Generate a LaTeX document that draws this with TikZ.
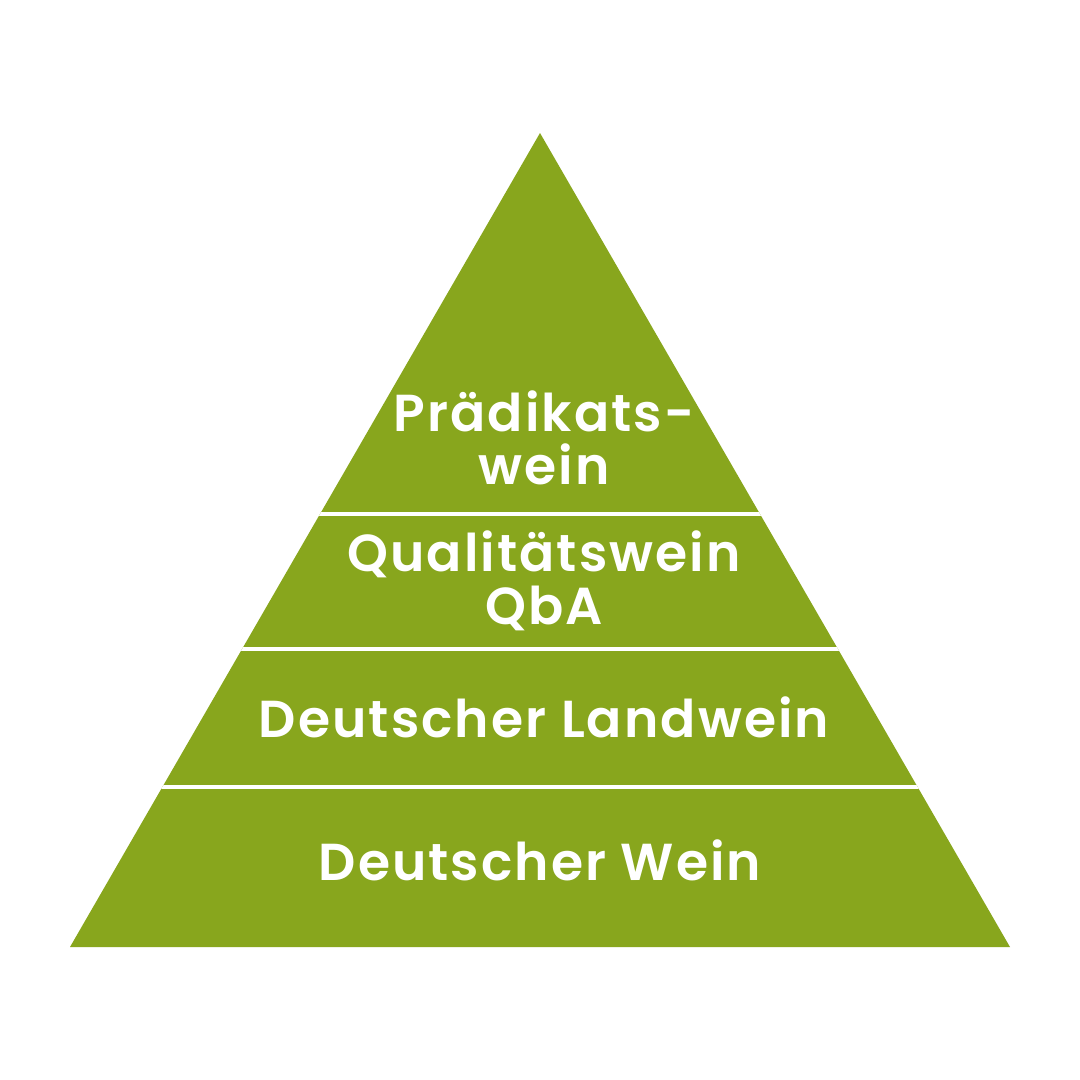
\documentclass[tikz,border=0pt]{standalone}
\usepackage{fontspec}
\setmainfont{Poppins}
\newfontfamily\semib[LetterSpace=4]{Poppins SemiBold}
\definecolor{wine}{HTML}{88A61D}
\begin{document}
\begin{tikzpicture}[x=1pt,y=-1pt,
  lbl/.style={text=white,font=\semib\fontsize{52}{52}\selectfont,inner sep=0pt,anchor=base},
  sep/.style={draw=white,line width=4pt}]
\useasboundingbox[fill=white] (0,0) rectangle (1080,1080);
\coordinate (apex) at (540,133);
\coordinate (bl) at (70,947);
\coordinate (br) at (1010,947);
\fill[wine] (apex) -- (bl) -- (br) -- cycle;
\begin{scope}
\clip (apex) -- (bl) -- (br) -- cycle;
\draw[sep] (0,514) -- (1080,514);
\draw[sep] (0,649) -- (1080,649);
\draw[sep] (0,787) -- (1080,787);
\end{scope}
\node[lbl] (p1) at (544,431) {Prädikats-};
\node[lbl] (p2) at (544,484) {wein};
\node[lbl] (q1) at (544,571) {Qualitätswein};
\node[lbl] (q2) at (544,624) {QbA};
\node[lbl] (l) at (544,737) {Deutscher Landwein};
\node[lbl] (w) at (540,880) {Deutscher Wein};
\end{tikzpicture}
\end{document}
